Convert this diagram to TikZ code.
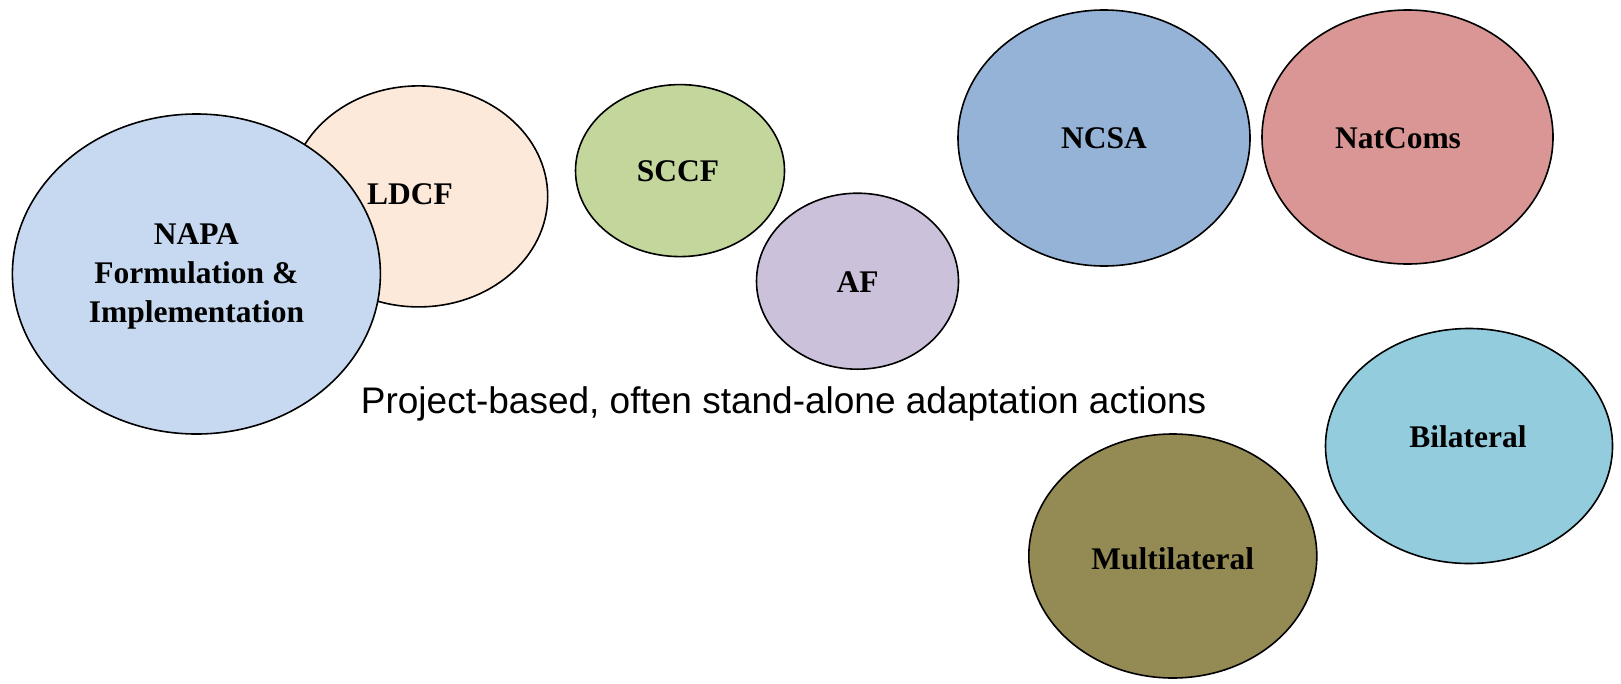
\documentclass[tikz,border=0pt]{standalone}
\usepackage{fontspec}
\setmainfont{Liberation Serif}
\setsansfont{Liberation Sans}
\usepackage{tikz}
\usetikzlibrary{shapes.geometric}

\definecolor{napablue}{HTML}{C6D9F1}
\definecolor{ldcforange}{HTML}{FDE9D9}
\definecolor{sccfgreen}{HTML}{C3D69B}
\definecolor{afpurple}{HTML}{CCC1DA}
\definecolor{ncsablue}{HTML}{95B3D7}
\definecolor{natred}{HTML}{D99694}
\definecolor{biaqua}{HTML}{93CDDD}
\definecolor{multitan}{HTML}{948A54}

\tikzset{
  fund/.style={ellipse,draw=black,line width=1.6pt,inner sep=0pt},
  fundtext/.style={font=\fontsize{31.5}{39}\selectfont\bfseries,align=center},
}

\begin{document}
\begin{tikzpicture}[x=1pt,y=-1pt]
  \useasboundingbox (0,0) rectangle (1621,683);
  % funds behind
  \node[fund,fill=ldcforange,minimum width=258pt,minimum height=221pt] (ldcf) at (418.7,196.4) {};
  \node[fund,fill=napablue,minimum width=368pt,minimum height=320pt] (napa) at (196.4,274) {};
  \node[fund,fill=sccfgreen,minimum width=209pt,minimum height=172pt] (sccf) at (680,170.6) {};
  \node[fund,fill=afpurple,minimum width=202pt,minimum height=176pt] (af) at (857.5,281.2) {};
  \node[fund,fill=ncsablue,minimum width=292pt,minimum height=256pt] (ncsa) at (1104,138) {};
  \node[fund,fill=natred,minimum width=291pt,minimum height=254pt] (natcoms) at (1407.5,137) {};
  \node[fund,fill=biaqua,minimum width=287pt,minimum height=235pt] (bilat) at (1469,446) {};
  \node[fund,fill=multitan,minimum width=288pt,minimum height=244pt] (multi) at (1172.8,556) {};
  % labels
  \node[fundtext] (ldcflabel) at (410,194) {LDCF};
  \node[fundtext] (napalabel) at (196.4,276) {NAPA\\Formulation \&\\Implementation};
  \node[fundtext] (sccflabel) at (678,171.5) {SCCF};
  \node[fundtext] (aflabel) at (857.5,282) {AF};
  \node[fundtext] (ncsalabel) at (1104,138) {NCSA};
  \node[fundtext] (natlabel) at (1398,138) {NatComs};
  \node[fundtext] (bilatlabel) at (1468,437) {Bilateral};
  \node[fundtext] (multilabel) at (1172.8,559) {Multilateral};
  \node[font=\sffamily\fontsize{37}{44}\selectfont] (project) at (783.6,404) {Project-based, often stand-alone adaptation actions};
\end{tikzpicture}
\end{document}
